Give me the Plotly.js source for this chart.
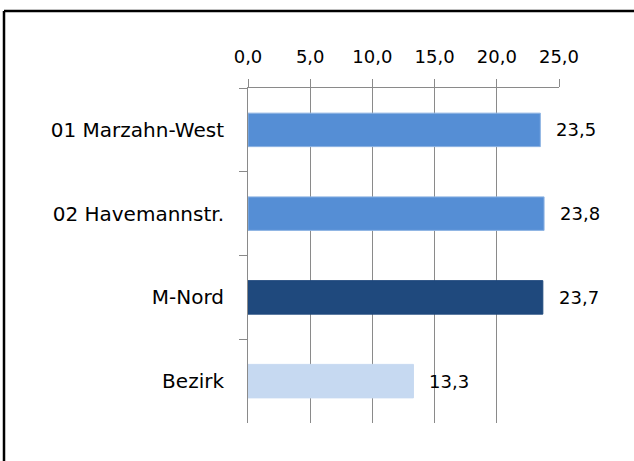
<!DOCTYPE html>
<html>
<head>
<meta charset="utf-8">
<script src="https://cdn.plot.ly/plotly-3.0.1.min.js"></script>
<style>
html,body{margin:0;padding:0;background:#fff;}
#chart{width:634px;height:461px;}
</style>
</head>
<body>
<div id="chart"></div>
<script>
const categories = ["01 Marzahn-West", "02 Havemannstr.", "M-Nord", "Bezirk"];
const values = [23.5, 23.8, 23.7, 13.3];
const valueLabels = ["23,5", "23,8", "23,7", "13,3"];
const barColors = ["#558ED5", "#558ED5", "#1F497D", "#C6D9F1"];
const barLineColors = ["#8EB4E3", "#8EB4E3", "#1F497D", "#C6D9F1"];
const tickValues = [0, 5, 10, 15, 20, 25];
const tickLabels = ["0,0", "5,0", "10,0", "15,0", "20,0", "25,0"];
const titleText = "(%)";

const FONT = "'DejaVu Sans', sans-serif";

const trace = {
  type: "bar",
  orientation: "h",
  y: categories,
  x: values,
  marker: { color: barColors, line: { color: barLineColors, width: 1 } },
  hoverinfo: "none",
  cliponaxis: false
};

const annotations = categories.map((c, i) => ({
  x: values[i], y: c, xref: "x", yref: "y",
  text: valueLabels[i], showarrow: false,
  xanchor: "left", yanchor: "middle", xshift: 14,
  font: { family: FONT, size: 18, color: "#000" }
}));
annotations.push({
  x: 0.36, xref: "paper", y: 1.265, yref: "paper",
  text: titleText, showarrow: false, yanchor: "bottom", xanchor: "center",
  font: { family: FONT, size: 18, color: "#000" }
});

const layout = {
  width: 634, height: 461,
  margin: { l: 248, r: 75, t: 88, b: 38 },
  paper_bgcolor: "#fff", plot_bgcolor: "#fff",
  showlegend: false,
  bargap: 0.6,
  font: { family: FONT, size: 18, color: "#000" },
  xaxis: {
    side: "top",
    range: [0, 25],
    tickvals: tickValues, ticktext: tickLabels,
    showgrid: true, gridcolor: "#8a8a8a", gridwidth: 1,
    showline: true, linecolor: "#8a8a8a", linewidth: 1,
    ticks: "outside", ticklen: 8, tickcolor: "#8a8a8a", tickwidth: 1,
    ticklabelstandoff: 9,
    zeroline: false, fixedrange: true,
    tickfont: { family: FONT, size: 18, color: "#000" }
  },
  yaxis: {
    type: "category",
    autorange: false,
    range: [3.5, -0.5],
    tickson: "boundaries",
    ticks: "outside", ticklen: 8, tickcolor: "#8a8a8a", tickwidth: 1,
    showline: true, linecolor: "#8a8a8a", linewidth: 1,
    showgrid: false, zeroline: false, fixedrange: true,
    ticklabelstandoff: 19,
    tickfont: { family: FONT, size: 20, color: "#000" }
  },
  annotations: annotations,
  shapes: [
    { type: "line", xref: "paper", yref: "paper",
      x0: (4 - 248) / 311, x1: (640 - 248) / 311,
      y0: (423 - 11) / 335, y1: (423 - 11) / 335,
      line: { color: "#000", width: 2.5 } },
    { type: "line", xref: "paper", yref: "paper",
      x0: (4 - 248) / 311, x1: (4 - 248) / 311,
      y0: (423 - 11) / 335, y1: (423 - 470) / 335,
      line: { color: "#000", width: 2.5 } }
  ]
};

Plotly.newPlot("chart", [trace], layout, { staticPlot: true, displayModeBar: false });
</script>
</body>
</html>
